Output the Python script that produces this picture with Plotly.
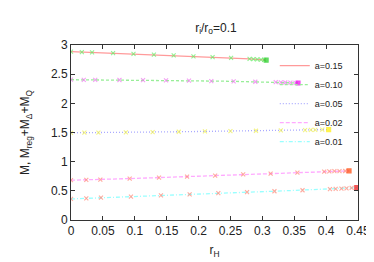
import plotly.graph_objects as go

# ---- data ----
labels = ["a=0.15", "a=0.10", "a=0.05", "a=0.02", "a=0.01"]

x_a015 = [0.0, 0.017, 0.033, 0.066, 0.098, 0.130, 0.161, 0.192, 0.222, 0.251, 0.280, 0.286, 0.292, 0.298, 0.303, 0.306]
y_a015 = [2.885, 2.878, 2.872, 2.862, 2.848, 2.836, 2.822, 2.806, 2.792, 2.778, 2.762, 2.758, 2.753, 2.749, 2.744, 2.740]

x_a010 = [0.0, 0.020, 0.038, 0.076, 0.113, 0.149, 0.185, 0.220, 0.255, 0.289, 0.321, 0.329, 0.336, 0.344, 0.352, 0.356]
y_a010 = [2.405, 2.404, 2.403, 2.400, 2.397, 2.393, 2.388, 2.382, 2.377, 2.370, 2.362, 2.360, 2.357, 2.355, 2.352, 2.349]

x_a005 = [0.0, 0.021, 0.043, 0.086, 0.128, 0.169, 0.210, 0.250, 0.290, 0.329, 0.367, 0.376, 0.383, 0.394, 0.404]
y_a005 = [1.495, 1.496, 1.498, 1.503, 1.508, 1.513, 1.519, 1.524, 1.530, 1.536, 1.542, 1.544, 1.546, 1.548, 1.550]

x_a002 = [0.0, 0.024, 0.046, 0.092, 0.138, 0.182, 0.226, 0.270, 0.313, 0.355, 0.397, 0.405, 0.413, 0.421, 0.430, 0.436]
y_a002 = [0.682, 0.687, 0.693, 0.710, 0.727, 0.744, 0.761, 0.781, 0.796, 0.813, 0.830, 0.833, 0.836, 0.838, 0.840, 0.842]

x_a001 = [0.0, 0.024, 0.047, 0.094, 0.141, 0.186, 0.231, 0.276, 0.319, 0.363, 0.406, 0.415, 0.424, 0.432, 0.440, 0.448]
y_a001 = [0.361, 0.372, 0.383, 0.400, 0.424, 0.440, 0.459, 0.476, 0.493, 0.510, 0.528, 0.532, 0.538, 0.544, 0.550, 0.556]

x_ticks = [0, 0.05, 0.1, 0.15, 0.2, 0.25, 0.3, 0.35, 0.4, 0.45]
x_tick_text = ["0", "0.05", "0.1", "0.15", "0.2", "0.25", "0.3", "0.35", "0.4", "0.45"]
y_ticks = [0, 0.5, 1, 1.5, 2, 2.5, 3]
y_tick_text = ["0", "0.5", "1", "1.5", "2", "2.5", "3"]

# ---- styles ----
xs = [x_a015, x_a010, x_a005, x_a002, x_a001]
ys = [y_a015, y_a010, y_a005, y_a002, y_a001]
line_colors = ["#ff9a9a", "#99ee99", "#aaaaff", "#ffaaff", "#99ffff"]
line_dash = ["solid", "3px,2px", "1px,2px", "4px,2px", "4px,2px,1px,2px"]
mk_colors = ["#66ee66", "#ee77ee", "#eeee55", "#ff8877", "#ff8877"]
end_colors = ["#22cc22", "#ee00ee", "#ffee00", "#ff4400", "#ee1111"]

FONT = "Liberation Sans, Arial"

fig = go.Figure()
for i in range(5):
    fig.add_trace(go.Scatter(
        x=xs[i], y=ys[i], mode="lines", name=labels[i],
        line=dict(color=line_colors[i], width=1.3, dash=line_dash[i]),
    ))
for i in range(5):
    n = len(xs[i])
    fig.add_trace(go.Scatter(
        x=xs[i], y=ys[i], mode="markers", showlegend=False,
        marker=dict(
            symbol=["x-thin"] * (n - 1) + ["square"],
            size=[4] * (n - 1) + [4],
            color=[mk_colors[i]] * (n - 1) + [end_colors[i]],
            line=dict(width=1.1, color=[mk_colors[i]] * (n - 1) + [end_colors[i]]),
        ),
    ))

axis_common = dict(
    showgrid=False, zeroline=False, showline=True, mirror="ticks",
    linecolor="#333333", linewidth=1, ticks="inside", ticklen=4,
    tickcolor="#333333", tickfont=dict(family=FONT, size=12, color="#222222"),
)

fig.update_layout(
    width=374, height=262,
    margin=dict(l=63, r=21, t=37, b=50),
    paper_bgcolor="white", plot_bgcolor="white",
    title=dict(text="r<sub>i</sub>/r<sub>o</sub>=0.1", x=0.556, xanchor="center",
               y=0.925, yanchor="middle",
               font=dict(family=FONT, size=12, color="#222222")),
    xaxis=dict(range=[0, 0.45], tickvals=x_ticks, ticktext=x_tick_text,
               title=dict(text="r<sub>H</sub>", standoff=8,
                          font=dict(family=FONT, size=12, color="#222222")),
               **axis_common),
    yaxis=dict(range=[0, 3], tickvals=y_ticks, ticktext=y_tick_text,
               title=dict(text="M, M<sub>reg</sub>+M<sub>Δ</sub>+M<sub>Q</sub>", standoff=18,
                          font=dict(family=FONT, size=12, color="#222222")),
               **axis_common),
    legend=dict(x=0.71, y=0.965, xanchor="left", yanchor="top",
                bgcolor="rgba(255,255,255,0)", tracegroupgap=0,
                font=dict(family=FONT, size=9, color="#222222"),
                itemwidth=30),
    showlegend=True,
)

fig.write_html("out.html")
